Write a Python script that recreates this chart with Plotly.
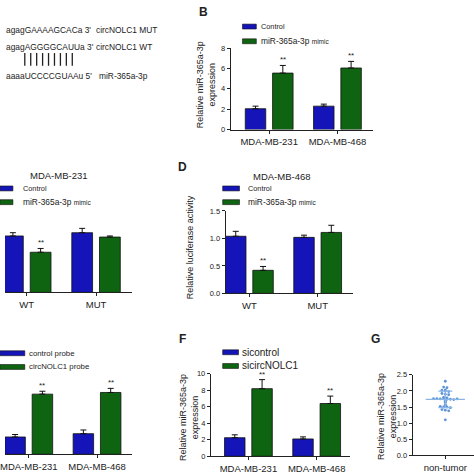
import numpy as np
import plotly.graph_objects as go

W = H = 474
FONT = "Liberation Sans, Arial, sans-serif"
TXT = "#222222"
BLUE = "#1414b8"
GREEN = "#0e6410"
EDGE = "#111111"
DOT = "#5d93d8"
DOTLINE = "#8ab6e6"

# ---------------- data ----------------
# Panel B
b_cats = ["MDA-MB-231", "MDA-MB-468"]
b_control = [2.05, 2.30]
b_control_sem = [0.25, 0.20]
b_mimic = [5.55, 6.05]
b_mimic_sem = [0.75, 0.65]
b_yticks = [0, 2, 4, 6, 8]

# Panel C (MDA-MB-231 luciferase)
c_cats = ["WT", "MUT"]
c_control = [1.04, 1.10]
c_control_sem = [0.06, 0.08]
c_mimic = [0.74, 1.02]
c_mimic_sem = [0.07, 0.02]

# Panel D (MDA-MB-468 luciferase)
d_cats = ["WT", "MUT"]
d_control = [1.04, 1.02]
d_control_sem = [0.09, 0.04]
d_mimic = [0.42, 1.11]
d_mimic_sem = [0.07, 0.13]
d_yticks = [0.0, 0.5, 1.0, 1.5]

# Panel E (pull-down)
e_cats = ["MDA-MB-231", "MDA-MB-468"]
e_control = [2.10, 2.50]
e_control_sem = [0.30, 0.45]
e_probe = [7.30, 7.50]
e_probe_sem = [0.35, 0.50]

# Panel F
f_cats = ["MDA-MB-231", "MDA-MB-468"]
f_control = [2.25, 2.10]
f_control_sem = [0.35, 0.25]
f_si = [8.20, 6.40]
f_si_sem = [1.10, 0.90]
f_yticks = [0, 2, 4, 6, 8, 10]

# Panel G (scatter)
g_cat = "non-tumor"
g_values = [2.30, 2.12, 2.10, 2.03, 2.02, 2.00, 1.98, 1.92, 1.90, 1.88,
            1.80, 1.78, 1.76, 1.76, 1.75, 1.75, 1.74, 1.74, 1.73, 1.75,
            1.68, 1.65, 1.58, 1.55, 1.52, 1.50, 1.50, 1.48, 1.42, 1.40,
            1.38, 1.10]
g_yticks = [0.0, 0.5, 1.0, 1.5, 2.0, 2.5]


def px(x):
    return x / W


def py(y):
    return 1 - y / H


fig = go.Figure()
annotations = []
shapes = []

OFF_A, WID = -0.35, 0.30
OFF_B = 0.05


def bar_panel(idx, cats, v1, s1, v2, s2, xdom, xrange, ydom, yrange,
              yticks=None, show_y=True, ytickfmt=None, sig=()):
    xa = "x" if idx == 1 else f"x{idx}"
    ya = "y" if idx == 1 else f"y{idx}"
    pos = list(range(len(cats)))
    for vals, sems, off, col in ((v1, s1, OFF_A, BLUE), (v2, s2, OFF_B, GREEN)):
        fig.add_trace(go.Bar(
            x=pos, y=vals, offset=off, width=WID, xaxis=xa, yaxis=ya,
            marker=dict(color=col, line=dict(color=EDGE, width=0.8)),
            error_y=dict(type="data", array=sems, arrayminus=[0] * len(sems),
                         symmetric=False, color=EDGE, thickness=1, width=3),
            showlegend=False, hoverinfo="skip"))
    for i in sig:
        annotations.append(dict(
            x=i + OFF_B + WID / 2, y=v2[i] + s2[i], xref=xa, yref=ya,
            text="**", showarrow=False, yanchor="bottom", yshift=-1,
            font=dict(size=8, color=TXT, family=FONT)))
    key = "xaxis" if idx == 1 else f"xaxis{idx}"
    ykey = "yaxis" if idx == 1 else f"yaxis{idx}"
    fig.update_layout(**{
        key: dict(domain=[px(xdom[0]), px(xdom[1])], range=xrange,
                  anchor=ya, tickvals=pos, ticktext=cats, showline=True,
                  linecolor=TXT, linewidth=1, ticks="outside", ticklen=3,
                  tickcolor=TXT, showgrid=False, zeroline=False,
                  ticklabeloverflow="allow",
                  tickfont=dict(size=9.5, color=TXT, family=FONT)),
        ykey: dict(domain=[py(ydom[1]), py(ydom[0])], range=yrange,
                   anchor=xa, showline=show_y, linecolor=TXT, linewidth=1,
                   ticks="outside" if show_y else "", ticklen=3,
                   tickcolor=TXT, showgrid=False, zeroline=False,
                   showticklabels=show_y, tickvals=yticks,
                   tickformat=ytickfmt,
                   tickfont=dict(size=7.5, color=TXT, family=FONT)),
    })


bar_panel(1, b_cats, b_control, b_control_sem, b_mimic, b_mimic_sem,
          (228, 372), [-0.565, 1.522], (45, 128), [0, 8], b_yticks, True,
          None, sig=(0, 1))
bar_panel(2, c_cats, c_control, c_control_sem, c_mimic, c_mimic_sem,
          (0, 128), [-0.314, 1.514], (211, 294), [0, 1.5], None, False,
          None, sig=(0,))
bar_panel(3, d_cats, d_control, d_control_sem, d_mimic, d_mimic_sem,
          (223, 352), [-0.348, 1.522], (211, 295), [0, 1.5], d_yticks, True,
          ".1f", sig=(0,))
bar_panel(4, e_cats, e_control, e_control_sem, e_probe, e_probe_sem,
          (0, 128), [-0.348, 1.507], (375, 459), [0, 10], None, False,
          None, sig=(0, 1))
bar_panel(5, f_cats, f_control, f_control_sem, f_si, f_si_sem,
          (208, 349), [-0.551, 1.493], (377, 461), [0, 10], f_yticks, True,
          None, sig=(0, 1))

# ---------------- panel G scatter ----------------
g = np.array(g_values)
bins = np.round(g / 0.05).astype(int)
xoff = np.zeros(len(g))
step = 3.4 / 66
for b in np.unique(bins):
    idxs = np.where(bins == b)[0]
    n = len(idxs)
    for k, j in enumerate(idxs):
        xoff[j] = (k - (n - 1) / 2) * step
fig.add_trace(go.Scatter(
    x=xoff, y=g, mode="markers", xaxis="x6", yaxis="y6",
    marker=dict(size=2.8, color=DOT), showlegend=False, hoverinfo="skip"))
fig.add_trace(go.Scatter(
    x=[0], y=[float(g.mean())], mode="markers", xaxis="x6", yaxis="y6",
    marker=dict(symbol="line-ew", size=28, line=dict(color=DOTLINE, width=1.2)),
    error_y=dict(type="data", array=[float(g.std(ddof=1))], color=DOTLINE,
                 thickness=1.2, width=7),
    showlegend=False, hoverinfo="skip"))
fig.update_layout(
    xaxis6=dict(domain=[px(412), 1.0], range=[-0.5, 0.439], anchor="y6",
                tickvals=[0], ticktext=[g_cat], showline=True, linecolor=TXT,
                linewidth=1, ticks="outside", ticklen=3, tickcolor=TXT,
                showgrid=False, zeroline=False, ticklabeloverflow="allow",
                tickfont=dict(size=9.5, color=TXT, family=FONT)),
    yaxis6=dict(domain=[py(460), py(378)], range=[0, 2.5], anchor="x6",
                tickvals=g_yticks, tickformat=".1f", showline=True,
                linecolor=TXT, linewidth=1, ticks="outside", ticklen=3,
                tickcolor=TXT, showgrid=False, zeroline=False,
                tickfont=dict(size=7.5, color=TXT, family=FONT)),
)


# ---------------- text helpers ----------------
def text(x, y, s, size=9, anchor="left", bold=False, angle=0, color=TXT):
    annotations.append(dict(
        x=px(x), y=py(y), xref="paper", yref="paper", text=(f"<b>{s}</b>" if bold else s),
        showarrow=False, xanchor=anchor, yanchor="middle", textangle=angle,
        font=dict(size=size, color=color, family=FONT)))


def legend_item(x0, x1, y, color, label, tx, size=7.5):
    shapes.append(dict(type="rect", xref="paper", yref="paper",
                       x0=px(x0), x1=px(x1), y0=py(y + 2.5), y1=py(y - 2.5),
                       fillcolor=color, line=dict(color=EDGE, width=0.6)))
    text(tx, y, label, size=size)


# Panel A sequences
text(-1.5, 27, "agagGAAAAGCACa 3'", 8.4)
text(90, 27, "circNOLC1 MUT", 8.4)
text(-1.5, 44, "agagAGGGGCAUUa 3'", 8.4)
text(90, 44, "circNOLC1 WT", 8.4)
text(-1.5, 73, "aaaaUCCCCGUAAu 5'", 8.4)
text(93, 73, "miR-365a-3p", 8.4)
for k in range(9):
    xx = 20 + k * 6.0
    shapes.append(dict(type="line", xref="paper", yref="paper",
                       x0=px(xx), x1=px(xx), y0=py(50), y1=py(63),
                       line=dict(color=TXT, width=1.3)))

# Panel letters
text(201, 8, "B", 12, "center", bold=True)
text(179, 166, "D", 12, "center", bold=True)
text(179, 341, "F", 12, "center", bold=True)
text(374, 341, "G", 12, "center", bold=True)

# Panel titles
text(55, 175, "MDA-MB-231", 9.5, "center")
text(280, 176, "MDA-MB-468", 9.5, "center")

# Y axis titles
text(204, 82, "Relative miR-365a-3p<br>expression", 9, "center", angle=-90)
text(187, 248, "Relative luciferase activity", 9, "center", angle=-90)
text(186, 422, "Relative miR-365a-3p<br>expression", 9, "center", angle=-90)
text(386, 420, "Relative miR-365a-3p<br>expression", 9, "center", angle=-90)

# Legends
MIMIC = "miR-365a-3p <span style='font-size:6.5px'>mimic</span>"
legend_item(240, 254, 23, BLUE, "Control", 257, 7.3)
legend_item(240, 254, 38, GREEN, MIMIC, 257, 8.4)
legend_item(-5, 8, 188, BLUE, "Control", 16, 7.3)
legend_item(-5, 8, 202, GREEN, MIMIC, 16, 8.4)
legend_item(220, 237, 188, BLUE, "Control", 244, 7.3)
legend_item(220, 237, 202, GREEN, MIMIC, 244, 8.4)
legend_item(-5, 20, 356, BLUE, "control probe", 22, 7.8)
legend_item(-5, 20, 370, GREEN, "circNOLC1 probe", 22, 7.8)
legend_item(220, 236, 355, BLUE, "sicontrol", 237, 10)
legend_item(220, 236, 369, GREEN, "sicircNOLC1", 237, 10)

fig.update_layout(
    width=W, height=H, margin=dict(l=0, r=0, t=0, b=0),
    paper_bgcolor="white", plot_bgcolor="rgba(0,0,0,0)",
    barmode="overlay", showlegend=False,
    annotations=annotations, shapes=shapes,
    font=dict(family=FONT, color=TXT),
)

fig.write_html("out.html", config={"displayModeBar": False},
               post_script="document.body.style.margin='0px';"
                           "document.body.style.overflow='hidden';")
